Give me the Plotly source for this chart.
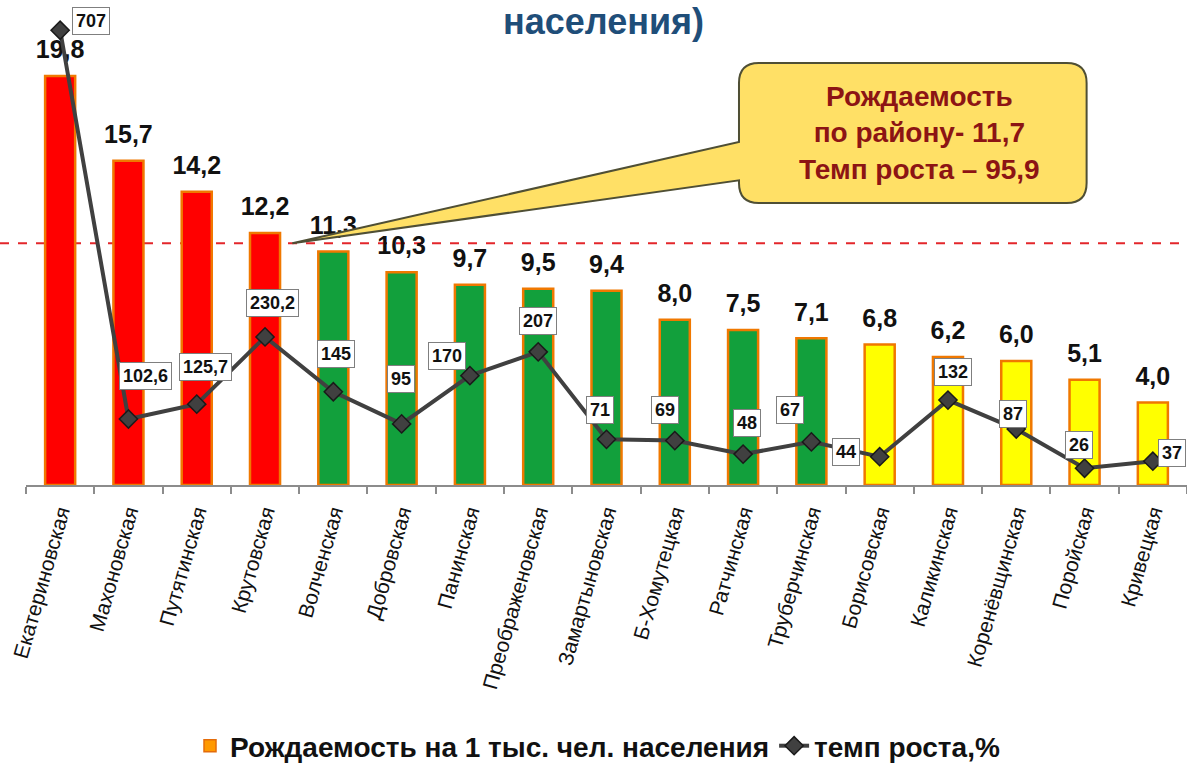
import plotly.graph_objects as go

# ---------------- data ----------------
categories = ["Екатериновская", "Махоновская", "Путятинская", "Крутовская", "Волченская",
              "Добровская", "Панинская", "Преображеновская", "Замартыновская", "Б-Хомутецкая",
              "Ратчинская", "Труберчинская", "Борисовская", "Каликинская", "Коренёвщинская",
              "Поройская", "Кривецкая"]
birth_rate = [19.8, 15.7, 14.2, 12.2, 11.3, 10.3, 9.7, 9.5, 9.4, 8.0, 7.5, 7.1, 6.8, 6.2, 6.0, 5.1, 4.0]
growth = [707, 102.6, 125.7, 230.2, 145, 95, 170, 207, 71, 69, 48, 67, 44, 132, 87, 26, 37]
district_rate = 11.7
district_growth = 95.9
bar_name = "Рождаемость на 1 тыс. чел. населения"
line_name = "темп роста,%"
title_tail = "населения)"

# ---------------- style / layout ----------------
W, H = 1187, 767
ML, MR, MT, MB = 26, 0, 0, 282
PLOT_W = W - ML - MR
PLOT_H = H - MT - MB
Y1_MAX = 23.48
Y2_MAX = 754
FONT = "Arial, Liberation Sans, sans-serif"

RED, GREEN, YELLOW = "#FF0000", "#12A03C", "#FFFF00"
BORDER = "#F07800"
LINE_COL = "#404040"

def bar_color(v):
    if v >= district_rate:
        return RED
    if v >= 7:
        return GREEN
    return YELLOW

colors = [bar_color(v) for v in birth_rate]

def fmt(v):
    return str(int(v)) if float(v).is_integer() else f"{v}".replace(".", ",")

bar_labels = [f"{v:.1f}".replace(".", ",") for v in birth_rate]
growth_labels = [fmt(v) for v in growth]

# label offsets (px) of the growth-rate boxes relative to their markers (dx right, dy up)
label_offsets = [(31, 9), (17, 43), (9, 37), (7, 34), (3, 38), (-1, 45), (-23, 20), (0, 31),
                 (-7, 29), (-10, 31), (4, 31), (-21, 32), (-34, 5), (5, 28), (-3, 15), (-6, 23), (19, 8)]

px_per_unit = PLOT_H / Y1_MAX
lift = 11.5 / px_per_unit

fig = go.Figure()

fig.add_trace(go.Bar(
    x=categories, y=birth_rate, width=0.44,
    marker=dict(color=colors, line=dict(color=BORDER, width=2.5)),
    showlegend=False, hoverinfo="x+y",
))

fig.add_trace(go.Scatter(
    x=categories, y=[v + lift for v in birth_rate], mode="text",
    text=bar_labels, textposition="top center",
    textfont=dict(family=FONT, size=25, color="#111111", weight="bold"),
    cliponaxis=False, showlegend=False, hoverinfo="skip",
))

# legend swatch for bars
fig.add_trace(go.Bar(
    x=[None], y=[None], name=bar_name,
    marker=dict(color="#FF9900", line=dict(color="#E46C0A", width=1.5)),
))

fig.add_trace(go.Scatter(
    x=categories, y=growth, yaxis="y2", name=line_name, mode="lines+markers",
    line=dict(color=LINE_COL, width=4),
    marker=dict(symbol="diamond", size=14, color=LINE_COL, line=dict(color="#1A1A1A", width=1.5)),
    cliponaxis=False,
))

annotations = []
for c, v, t, (dx, dy) in zip(categories, growth, growth_labels, label_offsets):
    annotations.append(dict(
        x=c, y=v, xref="x", yref="y2", text=f"<b>{t}</b>", showarrow=False,
        xshift=dx, yshift=dy, bgcolor="white", bordercolor="#7F7F7F", borderwidth=1, borderpad=3,
        font=dict(family=FONT, size=18, color="#111111"),
    ))

# callout text
annotations.append(dict(
    x=12.59, y=17.04, xref="x", yref="y", showarrow=False,
    text=f"<b>Рождаемость<br>по району- {fmt(district_rate)}<br>Темп роста – {fmt(district_growth)}</b>",
    font=dict(family=FONT, size=28, color="#8C1414"), align="center",
))

# partially visible title (top of the original title lies above the picture)
annotations.append(dict(
    x=(603 - ML) / PLOT_W, y=1, xref="paper", yref="paper", showarrow=False,
    text=f"<b>{title_tail}</b>", font=dict(family=FONT, size=36, color="#1F4E79"),
    xanchor="center", yanchor="top", borderpad=0,
))

# callout shape (data coordinates: category index / birth-rate units)
L, R, T, B = 9.94, 15.03, 20.43, 13.65
rx, ry = 0.29, 0.97
tail_hi, tail_lo = 16.61, 14.75
tip_x, tip_y = 3.4, district_rate
path = (f"M{L},{T-ry} Q{L},{T} {L+rx},{T} L{R-rx},{T} Q{R},{T} {R},{T-ry} "
        f"L{R},{B+ry} Q{R},{B} {R-rx},{B} L{L+rx},{B} Q{L},{B} {L},{B+ry} "
        f"L{L},{tail_lo} L{tip_x},{tip_y} L{L},{tail_hi} Z")

shapes = [
    dict(type="line", xref="paper", yref="y", x0=-ML / PLOT_W, x1=1, y0=district_rate, y1=district_rate,
         line=dict(color="#E3262B", width=2, dash="dash"), layer="below"),
    dict(type="path", xref="x", yref="y", path=path, fillcolor="#FFE066",
         line=dict(color="#4F4F35", width=2), layer="above"),
]

fig.update_layout(
    width=W, height=H,
    margin=dict(l=ML, r=MR, t=MT, b=MB, pad=0, autoexpand=False),
    paper_bgcolor="white", plot_bgcolor="white",
    barmode="overlay",
    font=dict(family=FONT, color="black"),
    xaxis=dict(
        type="category", range=[-0.5, len(categories) - 0.5],
        showline=True, linecolor="#8C8C8C", linewidth=1.5,
        ticks="outside", tickson="boundaries", ticklen=7, tickcolor="#8C8C8C", tickwidth=1.5,
        tickangle=-74, tickfont=dict(family=FONT, size=21, color="#111111"),
        ticklabelstandoff=5, automargin=False,
        showgrid=False, zeroline=False, fixedrange=True,
    ),
    yaxis=dict(range=[0, Y1_MAX], visible=False, fixedrange=True),
    yaxis2=dict(range=[0, Y2_MAX], overlaying="y", side="right", visible=False, fixedrange=True),
    legend=dict(
        orientation="h", x=(190 - ML) / PLOT_W, y=(PLOT_H - 721) / PLOT_H,
        xanchor="left", yanchor="top",
        font=dict(family=FONT, size=28, color="#111111", weight="bold"),
        bgcolor="rgba(0,0,0,0)",
    ),
    annotations=annotations,
    shapes=shapes,
)

fig.write_html("out.html", config={"displayModeBar": False},
               post_script="document.body.style.margin='0px';")
